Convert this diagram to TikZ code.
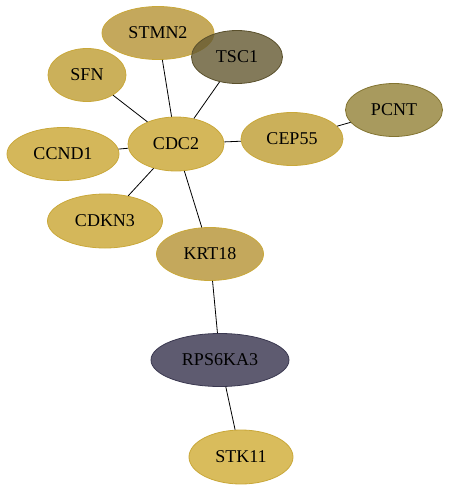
\documentclass[tikz,border=0pt]{standalone}
\usepackage{fontspec}
\setmainfont{Liberation Serif}
\usepackage{xcolor}
\usetikzlibrary{shapes.geometric}
\definecolor{goldA}{HTML}{C9A531}
\definecolor{goldB}{HTML}{B59233}
\definecolor{goldC}{HTML}{BE9C31}
\definecolor{goldD}{HTML}{D0AB33}
\definecolor{oliveA}{HTML}{645931}
\definecolor{oliveB}{HTML}{928136}
\definecolor{slateA}{HTML}{36324C}
\definecolor{rimgold}{HTML}{C9A83A}
\definecolor{rimslate}{HTML}{3A3850}
\begin{document}
\begin{tikzpicture}[x=1pt,y=-1pt,
  gene/.style={ellipse,draw=rimgold,line width=0.8pt,fill opacity=0.8,text opacity=1,
    inner sep=0pt,minimum height=53pt,font=\fontsize{18}{20}\selectfont},
  link/.style={black,line width=0.8pt}]
\useasboundingbox (0,0) rectangle (449,491);
% nodes
\node[gene,fill=goldB,minimum width=112pt] (stmn2) at (158,33) {STMN2};
\node[gene,fill=oliveA,draw=oliveA!90!black,minimum width=91pt] (tsc1) at (237,57) {TSC1};
\node[gene,fill=goldC,minimum width=78pt] (sfn) at (87,75) {SFN};
\node[gene,fill=oliveB,draw=oliveB!90!black,minimum width=97pt] (pcnt) at (394,110) {PCNT};
\node[gene,fill=goldA,minimum width=96pt,minimum height=54pt] (cdc2) at (176,144) {CDC2};
\node[gene,fill=goldC,minimum width=102pt] (cep55) at (292,139) {CEP55};
\node[gene,fill=goldA,minimum width=112pt] (ccnd1) at (63,154) {CCND1};
\node[gene,fill=goldA,minimum width=115pt,minimum height=54pt] (cdkn3) at (105,221) {CDKN3};
\node[gene,fill=goldB,minimum width=107pt] (krt18) at (210,254) {KRT18};
\node[gene,fill=slateA,draw=rimslate,minimum width=138pt] (rps6ka3) at (220,360) {RPS6KA3};
\node[gene,fill=goldD,minimum width=104pt,minimum height=54pt] (stk11) at (241,457) {STK11};
% edges
\draw[link] (sfn)--(cdc2);
\draw[link] (stmn2)--(cdc2);
\draw[link] (tsc1)--(cdc2);
\draw[link] (ccnd1)--(cdc2);
\draw[link] (cep55)--(cdc2);
\draw[link] (cep55)--(pcnt);
\draw[link] (cdkn3)--(cdc2);
\draw[link] (krt18)--(cdc2);
\draw[link] (krt18)--(rps6ka3);
\draw[link] (rps6ka3)--(stk11);
\end{tikzpicture}
\end{document}
